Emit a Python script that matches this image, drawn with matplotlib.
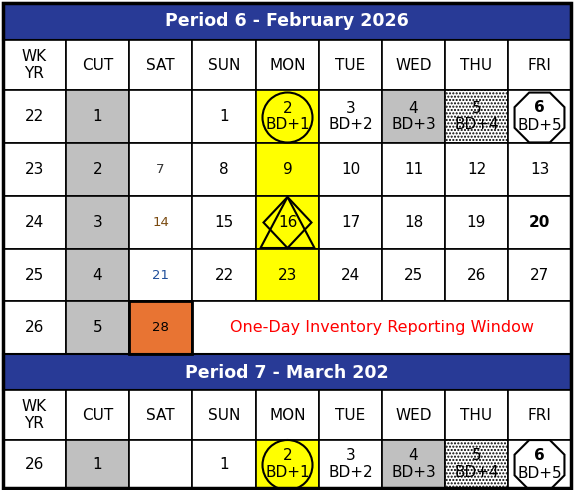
import matplotlib
matplotlib.use("Agg")
import matplotlib.pyplot as plt
from matplotlib.patches import Rectangle, Circle, RegularPolygon, Polygon
import numpy as np

titles = ["Period 6 - February 2026", "Period 7 - March 202"]
headers = ["WK\nYR", "CUT", "SAT", "SUN", "MON", "TUE", "WED", "THU", "FRI"]
feb_rows = [
    ["22", "1", "", "1", "2\nBD+1", "3\nBD+2", "4\nBD+3", "5\nBD+4", "6\nBD+5"],
    ["23", "2", "7", "8", "9", "10", "11", "12", "13"],
    ["24", "3", "14", "15", "16", "17", "18", "19", "20"],
    ["25", "4", "21", "22", "23", "24", "25", "26", "27"],
    ["26", "5", "28", "", "", "", "", "", ""],
]
mar_rows = [["26", "1", "", "1", "2\nBD+1", "3\nBD+2", "4\nBD+3", "5\nBD+4", "6\nBD+5"]]
note = "One-Day Inventory Reporting Window"

W, H = 574, 490
fig = plt.figure(figsize=(W/100, H/100), dpi=100)
ax = fig.add_axes([0, 0, 1, 1])
ax.set_xlim(0, W); ax.set_ylim(H, 0); ax.axis("off")

xs = [3, 66, 129, 192, 256, 319, 382, 445, 508, 571]
FONT = "DejaVu Sans"
BLUE = "#283a96"; GRAY = "#c0c0c0"; YEL = "#ffff00"; ORG = "#e87433"

def cell(c, y0, y1, fc="white", hatch=None):
    ax.add_patch(Rectangle((xs[c], y0), xs[c+1]-xs[c], y1-y0, fc=fc, ec="black", lw=1.2, hatch=hatch))

def txt(c, y0, y1, s, color="black", size=11, weight="normal"):
    ax.text((xs[c]+xs[c+1])/2, (y0+y1)/2, s, ha="center", va="center", color=color,
            fontsize=size, fontweight=weight, family=FONT, linespacing=1.15, zorder=5)

def block(ty, title, rows, rowys):
    ax.add_patch(Rectangle((xs[0], ty), xs[-1]-xs[0], 37 if ty < 100 else 36, fc=BLUE, ec="black", lw=1.5))
    ax.text((xs[0]+xs[-1])/2, ty+18.5, title, ha="center", va="center", color="white",
            fontsize=12.5, fontweight="bold", family=FONT)
    hy0, hy1 = rowys[0], rowys[1]
    for c, h in enumerate(headers):
        cell(c, hy0, hy1)
        txt(c, hy0, hy1, h)
    for r, row in enumerate(rows):
        y0, y1 = rowys[r+1], rowys[r+2]
        for c, v in enumerate(row):
            fc = "white"; hatch = None
            if c == 1: fc = GRAY
            if c == 4 and not (r == 4 and len(rows) > 1): fc = YEL
            if r == 0 and c == 6: fc = GRAY
            if r == 0 and c == 7: hatch = "....."
            if len(rows) > 1 and r == 4 and c == 2: fc = ORG
            if len(rows) > 1 and r == 4 and c >= 3:
                continue
            cell(c, y0, y1, fc, hatch)
            color = "black"; size = 11; weight = "normal"
            if c == 2 and v:
                color = {"7": "#333333", "14": "#7a4a10", "21": "#1f4e9a"}.get(v, "black"); size = 9.5
            if v in ("20",) or (r == 0 and c == 8):
                weight = "bold"
            if r == 0 and c == 8:
                top, bot = v.split("\n")
                ax.text((xs[c]+xs[c+1])/2, (y0+y1)/2-9, top, ha="center", va="center", fontsize=11, fontweight="bold", family=FONT, zorder=5)
                ax.text((xs[c]+xs[c+1])/2, (y0+y1)/2+9, bot, ha="center", va="center", fontsize=11, family=FONT, zorder=5)
            else:
                txt(c, y0, y1, v, color, size, weight)
            cx, cy = (xs[c]+xs[c+1])/2, (y0+y1)/2
            if r == 0 and c == 4:
                ax.add_patch(Circle((cx, cy+1), 25, fill=False, ec="black", lw=1.5, zorder=6))
            if r == 0 and c == 8:
                ax.add_patch(RegularPolygon((cx, cy+1), 8, radius=27, orientation=np.pi/8, fill=False, ec="black", lw=1.5, zorder=6))
            if len(rows) > 1 and r == 2 and c == 4:
                ax.add_patch(Polygon([(cx, y0+1), (cx+24, cy), (cx, y1-1), (cx-24, cy)], closed=True, fill=False, ec="black", lw=1.5, zorder=6))
                ax.add_patch(Polygon([(cx, y0+1), (cx+27, y1-1), (cx-27, y1-1)], closed=True, fill=False, ec="black", lw=1.5, zorder=6))
    if len(rows) > 1:
        y0, y1 = rowys[5], rowys[6]
        ax.add_patch(Rectangle((xs[3], y0), xs[-1]-xs[3], y1-y0, fc="white", ec="black", lw=1.2))
        ax.add_patch(Rectangle((xs[2], y0), xs[3]-xs[2], y1-y0, fill=False, ec="black", lw=2, zorder=4))
        ax.text((xs[3]+xs[-1])/2, (y0+y1)/2, note, ha="center", va="center", color="#ff0000",
                fontsize=11.5, family=FONT)

block(3, titles[0], feb_rows, [40, 90, 143, 196, 249, 301, 354])
block(354, titles[1], mar_rows, [390, 440, 488])
ax.add_patch(Rectangle((xs[0], 3), xs[-1]-xs[0], 485, fill=False, ec="black", lw=2.5, zorder=10))
fig.savefig("out.png", dpi=100)
